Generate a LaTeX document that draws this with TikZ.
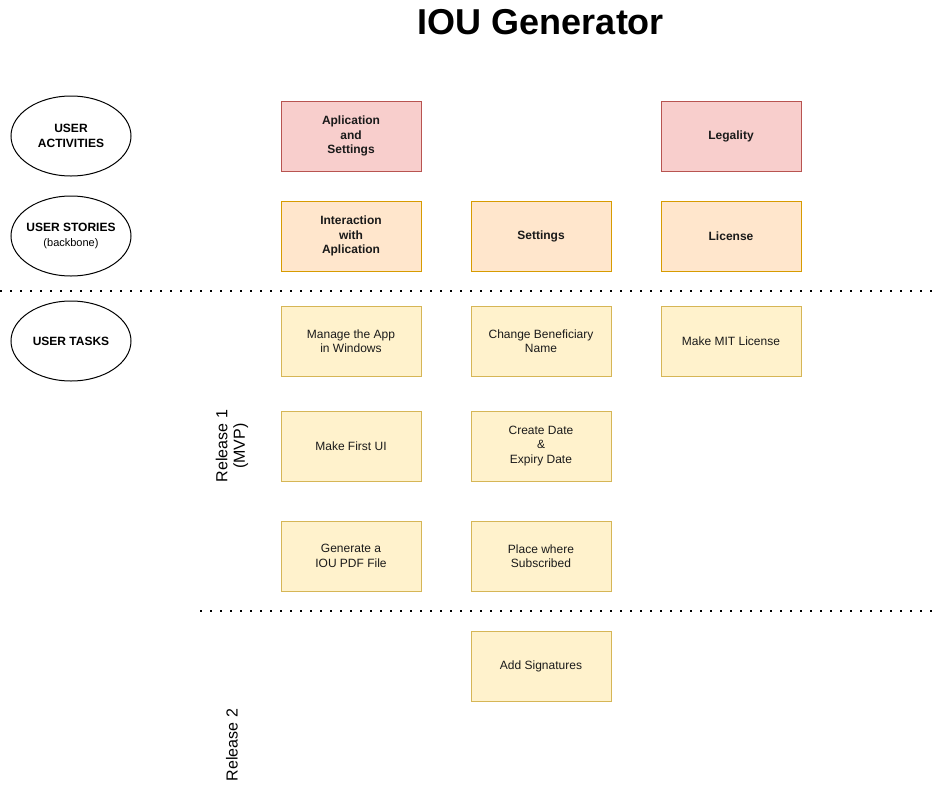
\documentclass[tikz,border=0pt]{standalone}
\usepackage{fontspec}
\setmainfont{Liberation Sans}
\usetikzlibrary{shapes.geometric}
\definecolor{actfill}{HTML}{F8CECC}
\definecolor{actline}{HTML}{B85450}
\definecolor{storyfill}{HTML}{FFE6CC}
\definecolor{storyline}{HTML}{D79B00}
\definecolor{taskfill}{HTML}{FFF2CC}
\definecolor{taskline}{HTML}{D6B656}
\definecolor{txt}{HTML}{1A1A1A}
\begin{document}
\begin{tikzpicture}[x=0.75pt,y=-0.75pt,
	card/.style={draw,line width=0.75pt,minimum width=105pt,minimum height=52.5pt,
		align=center,inner sep=0pt,text=txt,font=\fontsize{9}{10.9}\selectfont},
	activity/.style={card,fill=actfill,draw=actline,font=\fontsize{9}{10.9}\selectfont\bfseries},
	story/.style={card,fill=storyfill,draw=storyline,font=\fontsize{9}{10.9}\selectfont\bfseries},
	task/.style={card,fill=taskfill,draw=taskline},
	rowlabel/.style={ellipse,draw,line width=0.75pt,minimum width=90pt,minimum height=60pt,
		align=center,inner xsep=-4pt,inner ysep=0pt,font=\fontsize{9}{10.9}\selectfont\bfseries},
	release/.style={rotate=90,align=center,font=\fontsize{12}{13}\selectfont},
	divider/.style={line width=1.5pt,dash pattern=on 1.5pt off 6pt}]
	\useasboundingbox (0,0) rectangle (933,797);

	\node [font=\fontsize{27}{30}\selectfont\bfseries] (title) at (541,22) {IOU Generator};

	\node [rowlabel] (ua) at (71,136) {USER\\ACTIVITIES};
	\node [rowlabel] (us) at (71,236) {USER STORIES\\{\fontsize{8.25}{10}\selectfont\mdseries (backbone)}};
	\node [rowlabel] (ut) at (71,341) {USER TASKS};

	\node [activity] (app) at (351,136) {Aplication\\and\\Settings};
	\node [activity] (legal) at (731,136) {Legality};

	\node [story] (interact) at (351,236) {Interaction\\with\\Aplication};
	\node [story] (settings) at (541,236) {Settings};
	\node [story] (license) at (731,236) {License};

	\coordinate (d1a) at (0,291);
	\coordinate (d1b) at (933,291);
	\draw [divider] (d1a) -- (d1b);

	\node [task] (manage) at (351,341) {Manage the App\\in Windows};
	\node [task] (benef) at (541,341) {Change Beneficiary\\Name};
	\node [task] (mit) at (731,341) {Make MIT License};
	\node [task] (firstui) at (351,446) {Make First UI};
	\node [task] (dates) at (541,446) {Create Date\\\&\\Expiry Date};
	\node [task] (pdf) at (351,556) {Generate a\\IOU PDF File};
	\node [task] (place) at (541,556) {Place where\\Subscribed};

	\node [release] (r1) at (232,446) {Release 1\\(MVP)};

	\coordinate (d2a) at (200,611);
	\coordinate (d2b) at (933,611);
	\draw [divider] (d2a) -- (d2b);

	\node [task] (sign) at (541,666) {Add Signatures};
	\node [release] (r2) at (232,745) {Release 2};
\end{tikzpicture}
\end{document}
